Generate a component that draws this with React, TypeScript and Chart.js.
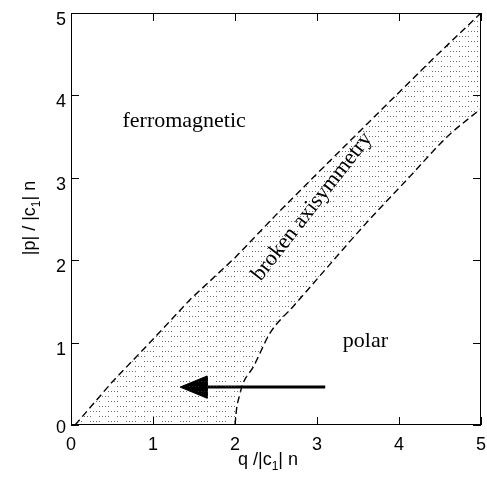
import { useEffect, useRef } from "react";
import { Chart, registerables } from "chart.js";
Chart.register(...registerables);

// ---- data ----
const xTicks = [0, 1, 2, 3, 4, 5];
const yTicks = [0, 1, 2, 3, 4, 5];
// ferromagnetic / broken-axisymmetry boundary
const upperX = [0.05, 0.5, 1.0, 1.45, 2.0, 2.5, 3.0, 3.8, 4.4, 5.0];
const upperY = [0.0, 0.52, 1.04, 1.52, 2.03, 2.55, 3.05, 3.84, 4.43, 5.0];
// polar / broken-axisymmetry boundary
const lowerX = [2.0, 2.02, 2.05, 2.1, 2.22, 2.43, 2.72, 3.0, 3.6, 4.1, 4.59, 5.0];
const lowerY = [0.0, 0.2, 0.34, 0.51, 0.7, 1.12, 1.45, 1.77, 2.45, 2.98, 3.5, 3.84];
// arrow
const arrowY = 0.46;
const arrowTailX = 3.1;
const arrowBaseX = 1.66;
const arrowTipX = 1.33;
const arrowHalf = 0.135;
// region labels
const labelTexts = ["ferromagnetic", "polar", "broken axisymmetry"];
const labelX = [1.38, 3.59, 2.94];
const labelY = [3.62, 0.95, 2.65];
const labelRot = [0, 0, -52];
const xTitle = ["q /|c", "1", "| n"];
const yTitle = ["|p| / |c", "1", "| n"];

function makePattern(): CanvasPattern | string {
  const c = document.createElement("canvas");
  c.width = 18;
  c.height = 10;
  const g = c.getContext("2d");
  if (!g) return "#ddd";
  g.fillStyle = "rgba(60,60,60,0.75)";
  for (let i = 0; i < 4; i++) {
    g.fillRect(i * 3, 1, 1, 1);
    g.fillRect((i * 3 + 9) % 18, 6, 1, 1);
  }
  return g.createPattern(c, "repeat") || "#ddd";
}

function drawParts(ctx: CanvasRenderingContext2D, parts: string[], cx: number, cy: number, rot: number) {
  const big = '18px "Liberation Sans", Arial, sans-serif';
  const small = '12px "Liberation Sans", Arial, sans-serif';
  const widths = parts.map((p, i) => {
    ctx.font = i === 1 ? small : big;
    return ctx.measureText(p).width;
  });
  const total = widths.reduce((a, b) => a + b, 0);
  ctx.save();
  ctx.translate(cx, cy);
  ctx.rotate(rot);
  ctx.fillStyle = "#000";
  ctx.textBaseline = "alphabetic";
  ctx.textAlign = "left";
  let x = -total / 2;
  parts.forEach((p, i) => {
    ctx.font = i === 1 ? small : big;
    ctx.fillText(p, x, i === 1 ? 5 : 0);
    x += widths[i];
  });
  ctx.restore();
}

const decor = {
  id: "decor",
  afterDatasetsDraw(chart: any) {
    const ctx: CanvasRenderingContext2D = chart.ctx;
    const { left, right, top, bottom } = chart.chartArea;
    const xs = chart.scales.x;
    const ys = chart.scales.y;
    ctx.save();
    // frame
    ctx.strokeStyle = "#000";
    ctx.lineWidth = 1;
    ctx.strokeRect(left + 0.5, top + 0.5, right - left - 1, bottom - top - 1);
    // inner ticks
    const tl = 8;
    ctx.beginPath();
    xTicks.forEach((t) => {
      const px = Math.round(xs.getPixelForValue(t)) + 0.5;
      ctx.moveTo(px, bottom);
      ctx.lineTo(px, bottom - tl);
      ctx.moveTo(px, top);
      ctx.lineTo(px, top + tl);
    });
    yTicks.forEach((t) => {
      const py = Math.round(ys.getPixelForValue(t)) + 0.5;
      ctx.moveTo(left, py);
      ctx.lineTo(left + tl, py);
      ctx.moveTo(right, py);
      ctx.lineTo(right - tl, py);
    });
    ctx.stroke();
    // tick labels
    ctx.fillStyle = "#000";
    ctx.font = '18px "Liberation Sans", Arial, sans-serif';
    ctx.textBaseline = "alphabetic";
    ctx.textAlign = "center";
    xTicks.forEach((t) => {
      ctx.fillText(String(t), xs.getPixelForValue(t), bottom + 25);
    });
    ctx.textAlign = "right";
    yTicks.forEach((t) => {
      const py = ys.getPixelForValue(t);
      ctx.fillText(String(t), left - 5, Math.min(py + 12, bottom + 8));
    });
    // axis titles
    drawParts(ctx, xTitle, 268, bottom + 40, 0);
    drawParts(ctx, yTitle, 35, (top + bottom) / 2 - 1, -Math.PI / 2);
    // region labels
    ctx.font = '22px "Liberation Serif", "Times New Roman", serif';
    labelTexts.forEach((t, i) => {
      const px = xs.getPixelForValue(labelX[i]);
      const py = ys.getPixelForValue(labelY[i]);
      ctx.save();
      ctx.translate(px, py);
      ctx.rotate((labelRot[i] * Math.PI) / 180);
      ctx.textAlign = "center";
      ctx.textBaseline = labelRot[i] === 0 ? "alphabetic" : "middle";
      ctx.fillStyle = "#000";
      ctx.fillText(t, 0, 0);
      ctx.restore();
    });
    ctx.restore();
  },
};

export default function App() {
  const ref = useRef<HTMLCanvasElement | null>(null);
  useEffect(() => {
    document.body.style.margin = "0";
    const canvas = ref.current;
    if (!canvas) return;
    const regionPts = [
      ...upperX.map((x, i) => ({ x, y: upperY[i] })),
      ...lowerX.map((x, i) => ({ x, y: lowerY[i] })).reverse(),
      { x: upperX[0], y: upperY[0] },
    ];
    const chart = new Chart(canvas, {
      type: "scatter",
      data: {
        datasets: [
          {
            data: regionPts,
            showLine: true,
            borderWidth: 0,
            borderColor: "rgba(0,0,0,0)",
            backgroundColor: makePattern() as any,
            fill: "shape",
            pointRadius: 0,
            tension: 0,
          } as any,
          {
            data: upperX.map((x, i) => ({ x, y: upperY[i] })),
            showLine: true,
            borderColor: "#000",
            borderWidth: 1.4,
            borderDash: [7, 4],
            pointRadius: 0,
            fill: false,
          },
          {
            data: lowerX.map((x, i) => ({ x, y: lowerY[i] })),
            showLine: true,
            borderColor: "#000",
            borderWidth: 1.4,
            borderDash: [7, 4],
            pointRadius: 0,
            fill: false,
            cubicInterpolationMode: "monotone",
          } as any,
          {
            data: [
              { x: arrowTailX, y: arrowY },
              { x: arrowBaseX, y: arrowY },
            ],
            showLine: true,
            borderColor: "#000",
            borderWidth: 3,
            pointRadius: 0,
            fill: false,
          },
          {
            data: [
              { x: arrowTipX, y: arrowY },
              { x: arrowBaseX, y: arrowY + arrowHalf },
              { x: arrowBaseX, y: arrowY - arrowHalf },
              { x: arrowTipX, y: arrowY },
            ],
            showLine: true,
            borderColor: "#000",
            borderWidth: 1,
            backgroundColor: "#000",
            fill: "shape",
            pointRadius: 0,
          } as any,
        ],
      },
      options: {
        animation: false,
        responsive: false,
        maintainAspectRatio: false,
        layout: { padding: { left: 0, right: 6, top: 13, bottom: 0 } },
        plugins: { legend: { display: false }, tooltip: { enabled: false } },
        scales: {
          x: {
            type: "linear",
            min: 0,
            max: 5,
            grid: { display: false, drawTicks: false },
            border: { display: false },
            ticks: { display: false },
            afterFit: (s: any) => {
              s.height = 56;
            },
          },
          y: {
            type: "linear",
            min: 0,
            max: 5,
            grid: { display: false, drawTicks: false },
            border: { display: false },
            ticks: { display: false },
            afterFit: (s: any) => {
              s.width = 71;
            },
          },
        },
      },
      plugins: [decor],
    });
    return () => chart.destroy();
  }, []);
  return (
    <div style={{ width: 487, height: 481, background: "#fff" }}>
      <canvas ref={ref} width={487} height={481} style={{ display: "block" }} />
    </div>
  );
}
